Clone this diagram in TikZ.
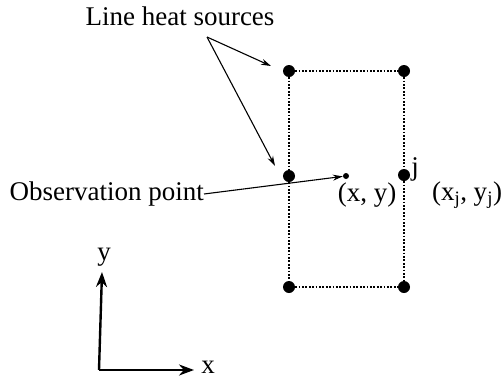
\documentclass[tikz,border=0pt]{standalone}
\usepackage{fontspec}
\setmainfont{Liberation Serif}
\usetikzlibrary{arrows.meta}
\begin{document}
\begin{tikzpicture}[x=1pt,y=-1pt,
  src/.style={circle,fill=black,inner sep=0pt,minimum size=12pt},
  obs/.style={circle,fill=black,inner sep=0pt,minimum size=6pt},
  dotline/.style={line width=2.2pt,dash pattern=on 1.8pt off 1.6pt},
  thinarrow/.style={line width=1.1pt,-{Stealth[length=10pt,width=6pt]}},
  axis/.style={line width=2.4pt,-{Stealth[length=15pt,width=11pt]}},
  lbl/.style={font=\fontsize{27}{31}\selectfont,inner sep=0pt}]
\useasboundingbox (0,0) rectangle (504,386);
\node[src] (tl) at (289,71) {};
\node[src] (tr) at (404,71) {};
\node[src] (ml) at (289,176) {};
\node[src] (mr) at (404,175) {};
\node[src] (bl) at (289,287) {};
\node[src] (br) at (404,287) {};
\draw[dotline] (tl) -- (tr);
\draw[dotline] (tl) -- (ml) -- (bl);
\draw[dotline] (tr) -- (mr) -- (br);
\draw[dotline] (bl) -- (br);
\node[obs] (p) at (346,176) {};
\node[lbl] (lhs) at (180,16) {Line heat sources};
\coordinate (fork) at (207,37);
\coordinate (a1) at (271,66);
\coordinate (a2) at (275,166);
\draw[thinarrow] (fork) -- (a1);
\draw[thinarrow] (fork) -- (a2);
\node[lbl,anchor=east] (op) at (204,194) {Observation point};
\draw[thinarrow] (op.east) -- (p);
\node[lbl] (xy) at (367,195) {(x, y)};
\node[lbl] (j) at (415,169) {j};
\node[lbl] (xjyj) at (467,195) {(x$_\mathrm{j}$, y$_\mathrm{j}$)};
\coordinate (o) at (99,370);
\coordinate (yt) at (102,272);
\coordinate (xt) at (194,370);
\draw[axis] (o) -- (yt);
\draw[axis] (o) -- (xt);
\node[lbl] (ylab) at (104,257) {y};
\node[lbl] (xlab) at (208,367) {x};
\end{tikzpicture}
\end{document}
